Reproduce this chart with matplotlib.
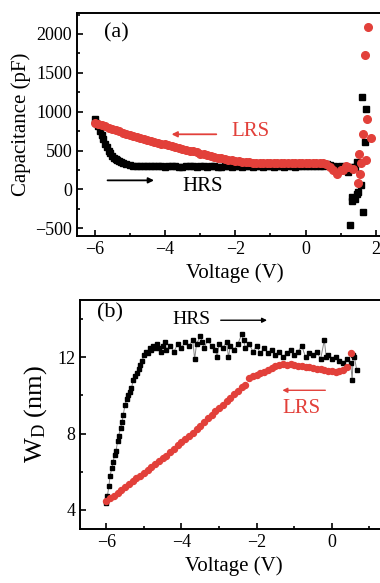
import matplotlib.pyplot as plt
from matplotlib.ticker import MultipleLocator

plt.rcParams['font.family'] = ['Liberation Serif', 'DejaVu Serif']
plt.rcParams['mathtext.fontset'] = 'custom'
plt.rcParams['mathtext.rm'] = 'Liberation Serif'
plt.rcParams['mathtext.it'] = 'Liberation Serif:italic'

RED = '#E2403A'

# ---- panel (a): capacitance vs voltage ----
hrs_a_v = [-6.0, -5.95, -5.9, -5.85, -5.8, -5.75, -5.7, -5.65, -5.6, -5.55, -5.5,
           -5.45, -5.4, -5.35, -5.3, -5.25, -5.2, -5.1, -5.0,
           -4.9, -4.8, -4.7, -4.6, -4.5, -4.4, -4.3, -4.2, -4.1, -4.0,
           -3.9, -3.8, -3.7, -3.6, -3.5, -3.4, -3.3, -3.2, -3.1, -3.0,
           -2.9, -2.8, -2.7, -2.6, -2.5, -2.4, -2.3, -2.2, -2.1, -2.0,
           -1.9, -1.8, -1.7, -1.6, -1.5, -1.4, -1.3, -1.2, -1.1, -1.0,
           -0.9, -0.8, -0.7, -0.6, -0.5, -0.4, -0.3, -0.2, -0.1, 0.0,
           0.1, 0.2, 0.3, 0.4, 0.5, 0.6, 0.7, 0.8, 0.9, 1.0, 1.1, 1.2,
           1.26, 1.31, 1.31, 1.35, 1.4, 1.4, 1.45, 1.45, 1.5, 1.59, 1.61, 1.64, 1.69, 1.71]
hrs_a_c = [900, 855, 810, 755, 700, 645, 590, 545, 500, 465, 430,
           410, 390, 375, 360, 350, 340, 325, 312,
           305, 302, 300, 298, 298, 296, 297, 295, 296, 294,
           296, 295, 297, 294, 285, 295, 296, 295, 294, 296,
           295, 294, 296, 295, 294, 285, 296, 295, 294, 296,
           295, 294, 296, 295, 294, 296, 295, 294, 296, 295,
           294, 296, 295, 294, 296, 295, 294, 296, 295, 296,
           295, 296, 295, 297, 305, 330, 320, 300, 290, 300, 280, 220,
           -464, -99, -150, 287, -130, 287, -55, 352, -30, 52, 1190, -292, 610, 1040]

lrs_a_v = [-6.0, -5.9, -5.8, -5.7, -5.6, -5.5, -5.4, -5.3, -5.2, -5.1, -5.0,
           -4.9, -4.8, -4.7, -4.6, -4.5, -4.4, -4.3, -4.2, -4.1, -4.0,
           -3.9, -3.8, -3.7, -3.6, -3.5, -3.4, -3.3, -3.2, -3.1, -3.0,
           -2.9, -2.8, -2.7, -2.6, -2.5, -2.4, -2.3, -2.2, -2.1, -2.0,
           -1.9, -1.8, -1.7, -1.6, -1.5, -1.4, -1.3, -1.2, -1.1, -1.0,
           -0.9, -0.8, -0.7, -0.6, -0.5, -0.4, -0.3, -0.2, -0.1, 0.0,
           0.1, 0.2, 0.3, 0.4, 0.5, 0.59, 0.69, 0.78, 0.88, 1.0, 1.07, 1.15, 1.21,
           1.35, 1.48, 1.51, 1.54, 1.59, 1.64, 1.69, 1.71, 1.75, 1.78, 1.85]
lrs_a_c = [860, 845, 830, 815, 795, 775, 760, 745, 730, 715, 700,
           688, 675, 662, 650, 638, 626, 614, 602, 590, 578,
           567, 556, 545, 534, 523, 512, 500, 489, 478, 460,
           450, 440, 430, 420, 410, 400, 392, 384, 376, 369,
           362, 356, 351, 347, 344, 342, 340, 338, 337, 336,
           336, 335, 335, 335, 335, 335, 335, 335, 335, 335,
           335, 335, 335, 335, 335, 331, 287, 245, 202, 250, 245, 300, 287,
           267, 81, 460, 202, 339, 718, 1735, 382, 911, 2091, 666]

# ---- panel (b): depletion width vs voltage ----
hrs_b_v = [-6.0, -5.97, -5.93, -5.9, -5.85, -5.82, -5.78, -5.74, -5.7, -5.67,
           -5.62, -5.58, -5.55, -5.5, -5.46, -5.42, -5.38, -5.33, -5.28, -5.24,
           -5.19, -5.14, -5.1, -5.05, -5.0, -4.95, -4.9, -4.85, -4.8, -4.75,
           -4.7, -4.65, -4.6, -4.55, -4.5, -4.45, -4.4, -4.3, -4.2, -4.1,
           -4.0, -3.9, -3.8, -3.7, -3.65, -3.6, -3.5, -3.45, -3.4, -3.3,
           -3.2, -3.1, -3.05, -3.0, -2.9, -2.8, -2.75, -2.7, -2.6, -2.5,
           -2.4, -2.35, -2.3, -2.2, -2.1, -2.0, -1.9, -1.8, -1.7, -1.6,
           -1.5, -1.4, -1.3, -1.2, -1.1, -1.0, -0.9, -0.8, -0.7, -0.6,
           -0.5, -0.4, -0.3, -0.2, -0.15, -0.1, 0.0, 0.1, 0.2, 0.3,
           0.4, 0.5, 0.54, 0.57, 0.6, 0.66]
hrs_b_w = [4.35, 4.75, 5.25, 5.8, 6.2, 6.5, 6.9, 7.1, 7.6, 7.9,
           8.3, 8.6, 9.0, 9.5, 9.8, 10.0, 10.2, 10.4, 10.8, 11.0,
           11.2, 11.4, 11.6, 11.8, 12.1, 12.3, 12.2, 12.5, 12.4, 12.6,
           12.5, 12.7, 12.5, 12.3, 12.6, 12.8, 12.4, 12.6, 12.3, 12.7,
           12.5, 12.8, 12.6, 12.9, 11.9, 12.7, 13.1, 12.8, 12.5, 12.9,
           12.6, 12.4, 12.0, 12.7, 12.5, 12.8, 12.0, 12.6, 12.4, 12.7,
           13.2, 12.9, 12.5, 12.7, 12.3, 12.6, 12.2, 12.5, 12.2, 12.4,
           12.1, 12.3, 12.0, 12.2, 12.4, 12.1, 12.3, 12.6, 12.0, 12.2,
           12.1, 12.3, 11.9, 12.9, 12.0, 12.1, 11.9, 12.0, 11.8, 11.7,
           11.9, 11.7, 10.8, 12.1, 12.0, 11.35]

lrs_b_v = [-6.0, -5.9, -5.8, -5.7, -5.6, -5.5, -5.4, -5.3, -5.2, -5.1, -5.0,
           -4.9, -4.8, -4.7, -4.6, -4.5, -4.4, -4.3, -4.2, -4.1, -4.0,
           -3.9, -3.8, -3.7, -3.6, -3.5, -3.4, -3.3, -3.2, -3.1, -3.0,
           -2.9, -2.8, -2.7, -2.6, -2.5, -2.4, -2.3, -2.2, -2.1, -2.0,
           -1.9, -1.8, -1.7, -1.6, -1.5, -1.4, -1.3, -1.2, -1.1, -1.0,
           -0.9, -0.8, -0.7, -0.6, -0.5, -0.4, -0.3, -0.2, -0.1, 0.0,
           0.1, 0.2, 0.3, 0.4, 0.5]
lrs_b_w = [4.45, 4.6, 4.75, 4.9, 5.05, 5.2, 5.35, 5.5, 5.65, 5.8, 5.95,
           6.1, 6.25, 6.4, 6.55, 6.7, 6.85, 7.05, 7.2, 7.4, 7.55,
           7.7, 7.85, 8.05, 8.25, 8.4, 8.6, 8.8, 9.0, 9.2, 9.35,
           9.5, 9.7, 9.85, 10.05, 10.25, 10.45, 10.55, 10.9, 11.0, 11.05,
           11.15, 11.25, 11.35, 11.45, 11.55, 11.6, 11.65, 11.6, 11.65, 11.6,
           11.55, 11.55, 11.5, 11.5, 11.45, 11.4, 11.4, 11.35, 11.3, 11.3,
           11.25, 11.3, 11.35, 11.5, 12.2]

fig = plt.figure(figsize=(3.8, 5.83), dpi=100)
ax1 = fig.add_axes([0.2026, 0.5952, 0.8329, 0.3825])
ax2 = fig.add_axes([0.2105, 0.0926, 0.8112, 0.3928])

ax1.plot(hrs_a_v, hrs_a_c, 's', color='black', ms=4.5, mec='black')
ax1.plot(lrs_a_v, lrs_a_c, 'o', color=RED, ms=5.5, mec=RED)
ax1.set_xlim(-6.5, 2.5)
ax1.set_ylim(-600, 2270)
ax1.xaxis.set_major_locator(MultipleLocator(2))
ax1.xaxis.set_minor_locator(MultipleLocator(1))
ax1.yaxis.set_major_locator(MultipleLocator(500))
ax1.yaxis.set_minor_locator(MultipleLocator(250))
ax1.set_xlabel('Voltage (V)', fontsize=15, labelpad=4)
ax1.set_ylabel('Capacitance (pF)', fontsize=15, labelpad=3)
ax1.text(-5.74, 2010, '(a)', fontsize=16, va='center')
ax1.text(-2.11, 747, 'LRS', fontsize=15, color=RED, va='center')
ax1.annotate('', xy=(-3.89, 709), xytext=(-2.46, 709),
             arrowprops=dict(arrowstyle='-|>', color=RED, lw=1.3, mutation_scale=8))
ax1.text(-3.49, 39, 'HRS', fontsize=15, color='black', va='center')
ax1.annotate('', xy=(-4.23, 116), xytext=(-5.71, 116),
             arrowprops=dict(arrowstyle='-|>', color='black', lw=1.3, mutation_scale=8))

ax2.plot(hrs_b_v, hrs_b_w, '-', color='#888888', lw=0.7)
ax2.plot(hrs_b_v, hrs_b_w, 's', color='black', ms=3.0, mec='black')
ax2.plot(lrs_b_v, lrs_b_w, 'o', color=RED, ms=4.3, mec=RED)
ax2.set_xlim(-6.7, 1.5)
ax2.set_ylim(3, 15)
ax2.xaxis.set_major_locator(MultipleLocator(2))
ax2.xaxis.set_minor_locator(MultipleLocator(1))
ax2.yaxis.set_major_locator(MultipleLocator(4))
ax2.yaxis.set_minor_locator(MultipleLocator(2))
ax2.set_xlabel('Voltage (V)', fontsize=15, labelpad=4)
ax2.set_ylabel(r'W$_{\mathrm{D}}$ (nm)', fontsize=19, labelpad=6)
ax2.text(-6.24, 14.34, '(b)', fontsize=16, va='center')
ax2.text(-4.23, 14.0, 'HRS', fontsize=14, va='center')
ax2.annotate('', xy=(-1.65, 13.94), xytext=(-3.03, 13.94),
             arrowprops=dict(arrowstyle='-|>', color='black', lw=1.0, mutation_scale=7))
ax2.text(-1.31, 9.32, 'LRS', fontsize=15, color=RED, va='center')
ax2.annotate('', xy=(-1.39, 10.27), xytext=(-0.1, 10.27),
             arrowprops=dict(arrowstyle='-|>', color=RED, lw=1.0, mutation_scale=7))

for ax in (ax1, ax2):
    ax.tick_params(which='both', direction='in', labelsize=13, width=1.2)
    ax.tick_params(which='major', length=4)
    ax.tick_params(which='minor', length=2.5)
    for s in ax.spines.values():
        s.set_linewidth(1.4)

fig.savefig('out.png', dpi=100)
